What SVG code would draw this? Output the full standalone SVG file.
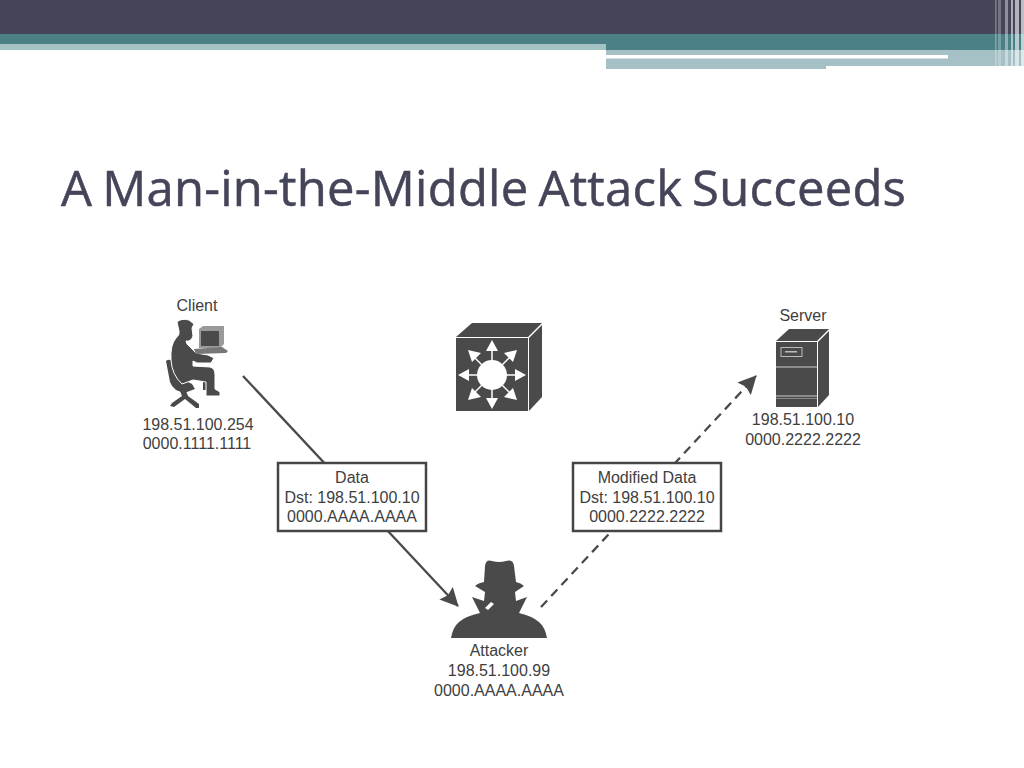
<svg xmlns="http://www.w3.org/2000/svg" width="1024" height="768" viewBox="0 0 1024 768">
<style>
.t{font-family:"Liberation Sans",Arial,sans-serif;font-size:16px;fill:#404040;text-anchor:middle}
.title{font-family:"Open Sans","Noto Sans",sans-serif;font-size:49px;fill:#454559;stroke:#454559;stroke-width:.5;word-spacing:-3px;letter-spacing:.23px}
.d{fill:#4a4a4a}
.w{fill:#fff}
.box{fill:#fff;stroke:#454545;stroke-width:2.5}
.c{fill:none;stroke:#4a4a4a;stroke-width:2.3}
</style>
<defs>
<marker id="ah" viewBox="0 0 10 10" refX="9.500" refY="5" markerWidth="9" markerHeight="8" markerUnits="strokeWidth" orient="auto"><path d="M0,0 L10,5 L0,10 L1.500,5 Z" fill="#4a4a4a"/></marker>
</defs>
<g id="header">
<rect x="0" y="0" width="1024" height="34" fill="#454559"/>
<rect x="0" y="34" width="1024" height="16" fill="#4a8086"/>
<rect x="0" y="44" width="606" height="6" fill="#a5c3c2"/>
<rect x="606" y="50" width="418" height="16" fill="#a5c1c6"/>
<rect x="606" y="66" width="220" height="3" fill="#a5c1c6"/>
<rect x="606" y="55" width="342" height="3.500" fill="#fff"/>
<g fill="#fff">
<rect x="995" y="0" width="1.500" height="68" opacity=".3"/>
<rect x="998" y="0" width="3" height="68" opacity=".25"/>
<rect x="1005" y="0" width="3" height="69" opacity=".4"/>
<rect x="1011" y="0" width="2" height="69" opacity=".55"/>
<rect x="1015" y="0" width="4" height="69" opacity=".6"/>
<rect x="1021" y="0" width="3" height="69" opacity=".65"/>
</g>
</g>
<text class="title" x="61" y="206">A Man-in-the-Middle Attack Succeeds</text>
<g id="connectors">
<path class="c" d="M243,376 L458,606" marker-end="url(#ah)"/>
<path class="c" d="M541,607 L756,376" stroke-dasharray="9 6" marker-end="url(#ah)"/>
</g>
<g id="client">
<text class="t" x="197" y="311">Client</text>
<path class="d" d="M166,361 Q171,357 176,366 Q180,380 192,384 L195,389 L187,392 Q174,393 170,382 Z"/>
<path class="d" d="M180,391 L186,391 L188,396 L199,404 L199,408 L196,408 L185,399 L174,407 L170,406 L172,403 L182,396 Z"/>
<rect class="d" x="203" y="379" width="4" height="11"/>
<path class="d" stroke="#fff" stroke-width="1" d="M177,322 Q181,318 189,320 L194,324 L192,328 L193,336 Q191,342 186,341 L187,344 L196,353 L208,355 L214,358 L211,363 L197,363 L193,361 L193,366 L210,367 Q215,368 215,375 L215,389 L220,392 L220,396 L206,396 L206,382 L193,380 L182,384 Q172,375 171,360 Q170,345 176,338 Q180,335 179,331 Z"/>
<path fill="#9a9a9a" d="M199,329 L203,326 L224,326 L224,344 L220,348 L199,348 Z"/>
<rect class="d" x="201" y="331" width="18" height="15"/>
<path fill="#777" d="M194,349 L222,347 L228,351 L226,353 L196,354 Z"/>
<text class="t" x="198" y="430">198.51.100.254</text>
<text class="t" x="197" y="449">0000.1111.1111</text>
</g>
<g id="switch">
<path class="d" d="M456,337 L472,323 L542,323 L528,337 Z"/>
<path class="d" d="M529,338 L542,325 L542,397 L529,411 Z"/>
<rect class="d" x="456" y="338" width="72" height="73"/>
<circle class="w" cx="492" cy="375" r="15"/>
<g id="arrows" stroke="#fff" stroke-width="1.500" fill="#fff">
<path d="M492,375 V350"/><path d="M492,375 V400"/><path d="M492,375 H467"/><path d="M492,375 H517"/>
<path d="M492,375 L474,357"/><path d="M492,375 L510,357"/><path d="M492,375 L474,393"/><path d="M492,375 L510,393"/>
<path stroke="none" d="M492,340 L498,351 L486,351 Z"/>
<path stroke="none" d="M492,409 L498,398 L486,398 Z"/>
<path stroke="none" d="M458,375 L469,369 L469,381 Z"/>
<path stroke="none" d="M526,375 L515,369 L515,381 Z"/>
<path stroke="none" d="M468,350 L481,353 L472,362 Z"/>
<path stroke="none" d="M517,350 L504,353 L513,362 Z"/>
<path stroke="none" d="M468,400 L481,397 L472,388 Z"/>
<path stroke="none" d="M517,400 L504,397 L513,388 Z"/>
</g>
</g>
<g id="server">
<text class="t" x="803" y="321">Server</text>
<path class="d" d="M776,341 L789,329 L829,329 L817,341 Z"/>
<path class="d" d="M818,342 L829,331 L829,395 L818,407 Z"/>
<rect class="d" x="776" y="342" width="41" height="65"/>
<rect x="781" y="347.500" width="21" height="9" fill="none" stroke="#bbb" stroke-width="1"/>
<rect x="785" y="351" width="12" height="1.500" fill="#bbb"/>
<rect x="776" y="366.500" width="41" height="1" fill="#ccc"/>
<rect x="776" y="395.500" width="41" height="1" fill="#ccc"/>
<rect x="776" y="398" width="41" height="1" fill="#888"/>
<text class="t" x="803" y="425">198.51.100.10</text>
<text class="t" x="803" y="445">0000.2222.2222</text>
</g>
<g id="data">
<rect class="box" x="278" y="463" width="148" height="68"/>
<text class="t" x="352" y="483">Data</text>
<text class="t" x="352" y="503">Dst: 198.51.100.10</text>
<text class="t" x="352" y="522">0000.AAAA.AAAA</text>
</g>
<g id="modified-data">
<rect class="box" x="573" y="463" width="148" height="68"/>
<text class="t" x="647" y="483">Modified Data</text>
<text class="t" x="647" y="503">Dst: 198.51.100.10</text>
<text class="t" x="647" y="522">0000.2222.2222</text>
</g>
<g id="attacker">
<path class="d" d="M451,638 Q453,627 459,622 Q466,616 480,613 L472,597 L484,601 L485,592 L475,586 Q478,583 484,582 L485,566 Q486,559 492,561 Q499,563 506,561 Q513,559 514,566 L516,582 Q521,583 524,586 L515,592 L516,601 L527,597 L519,613 Q532,616 539,622 Q545,627 547,638 Z"/>
<path class="w" d="M485,608 L491,602 L494,604 L488,610 Z"/>
<text class="t" x="499" y="656">Attacker</text>
<text class="t" x="499" y="676">198.51.100.99</text>
<text class="t" x="499" y="696">0000.AAAA.AAAA</text>
</g>
</svg>
